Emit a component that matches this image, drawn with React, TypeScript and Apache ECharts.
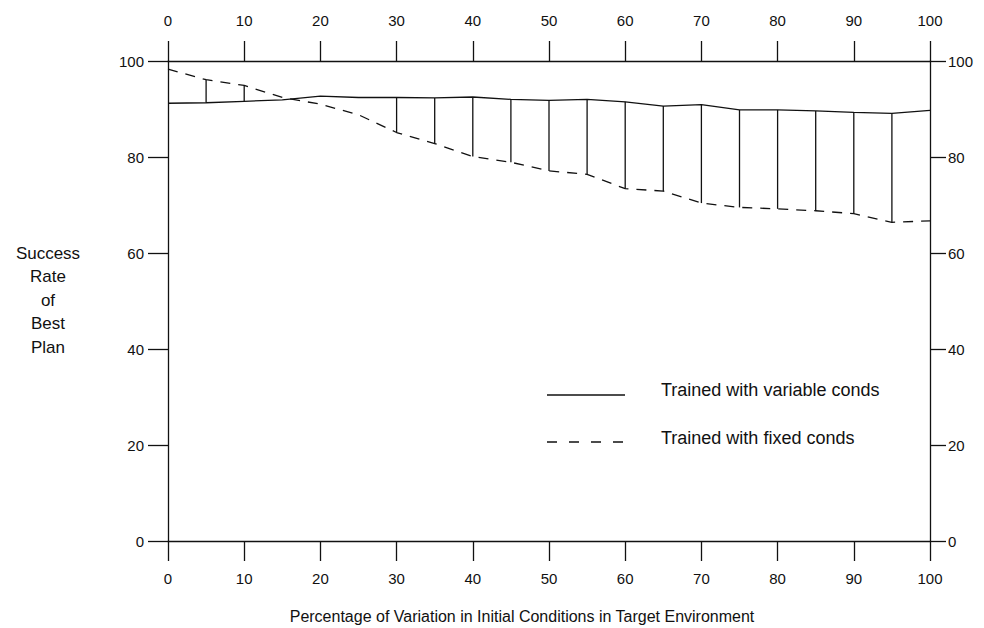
import React, { useEffect, useRef } from "react";
import * as echarts from "echarts";

const xValues = [0, 5, 10, 15, 20, 25, 30, 35, 40, 45, 50, 55, 60, 65, 70, 75, 80, 85, 90, 95, 100];
const variableConds = [91.2, 91.3, 91.6, 91.9, 92.7, 92.4, 92.4, 92.3, 92.5, 92.0, 91.8, 92.0, 91.5, 90.6, 90.9, 89.8, 89.8, 89.6, 89.3, 89.1, 89.7];
const fixedConds = [98.3, 96.1, 94.9, 92.4, 91.0, 88.8, 85.1, 82.8, 80.1, 78.9, 77.1, 76.4, 73.4, 72.9, 70.4, 69.5, 69.2, 68.8, 68.2, 66.4, 66.7];
const dropLineX = [5, 10, 30, 35, 40, 45, 50, 55, 60, 65, 70, 75, 80, 85, 90, 95];
const xTicks = [0, 10, 20, 30, 40, 50, 60, 70, 80, 90, 100];
const yTicks = [0, 20, 40, 60, 80, 100];
const legendLabels = ["Trained with variable conds", "Trained with fixed conds"];
const yAxisTitle = ["Success", "Rate", "of", "Best", "Plan"];
const xAxisTitle = "Percentage of Variation in Initial Conditions in Target Environment";

const FONT = "'Liberation Sans', Arial, Helvetica, sans-serif";
const INK = "#111";

export default function App() {
  const ref = useRef<HTMLDivElement>(null);
  useEffect(() => {
    if (!ref.current) return;
    const chart = echarts.init(ref.current, null, { renderer: "svg" });
    const labelStyle = { color: INK, fontFamily: FONT, fontSize: 15 };
    const lineStyle = { color: INK, width: 1.3 };
    const xAxisCommon = {
      type: "value" as const,
      min: xTicks[0],
      max: xTicks[xTicks.length - 1],
      interval: 10,
      splitLine: { show: false },
      axisLine: { show: true, onZero: false, lineStyle },
      axisTick: { show: true, length: 20, lineStyle },
    };
    const yAxisCommon = {
      type: "value" as const,
      min: yTicks[0],
      max: yTicks[yTicks.length - 1],
      interval: 20,
      splitLine: { show: false },
      axisLine: { show: true, onZero: false, lineStyle },
    };
    const pairs = (ys: number[]) => xValues.map((x, i) => [x, ys[i]]);
    const dropData = dropLineX.map((x) => {
      const i = xValues.indexOf(x);
      return [x, variableConds[i], fixedConds[i]];
    });
    chart.setOption({
      animation: false,
      backgroundColor: "#fff",
      grid: { left: 168, right: 54, top: 61, bottom: 87, containLabel: false },
      xAxis: [
        { ...xAxisCommon, position: "bottom", axisLabel: { ...labelStyle, margin: 30 } },
        { ...xAxisCommon, position: "top", axisLabel: { ...labelStyle, margin: 33 } },
      ],
      yAxis: [
        { ...yAxisCommon, position: "left", axisTick: { show: true, length: 20, lineStyle }, axisLabel: { ...labelStyle, margin: 24 } },
        { ...yAxisCommon, position: "right", axisTick: { show: true, length: 16, lineStyle }, axisLabel: { ...labelStyle, margin: 18 } },
      ],
      series: [
        {
          name: legendLabels[0],
          type: "line",
          data: pairs(variableConds),
          symbol: "none",
          lineStyle: { color: INK, width: 1.3, type: "solid" },
        },
        {
          name: legendLabels[1],
          type: "line",
          data: pairs(fixedConds),
          symbol: "none",
          lineStyle: { color: INK, width: 1.3, type: [10, 8] },
        },
        {
          type: "custom",
          data: dropData,
          renderItem: (params: any, api: any) => {
            const p1 = api.coord([api.value(0), api.value(1)]);
            const p2 = api.coord([api.value(0), api.value(2)]);
            return {
              type: "line",
              shape: { x1: p1[0], y1: p1[1], x2: p2[0], y2: p2[1] },
              style: { stroke: INK, lineWidth: 1.3 },
            };
          },
        },
      ],
      graphic: [
        {
          type: "text",
          x: 48,
          y: 300,
          style: {
            text: yAxisTitle.join("\n"),
            fill: INK,
            font: `17px ${FONT}`,
            align: "center",
            verticalAlign: "middle",
            lineHeight: 23.5,
          },
        },
        {
          type: "text",
          x: 522,
          y: 616,
          style: {
            text: xAxisTitle,
            fill: INK,
            font: `16px ${FONT}`,
            align: "center",
            verticalAlign: "middle",
          },
        },
        {
          type: "line",
          shape: { x1: 547, y1: 395, x2: 625, y2: 395 },
          style: { stroke: INK, lineWidth: 1.3 },
        },
        {
          type: "line",
          shape: { x1: 547, y1: 442, x2: 625, y2: 442 },
          style: { stroke: INK, lineWidth: 1.3, lineDash: [10, 12] },
        },
        {
          type: "text",
          x: 661,
          y: 390,
          style: { text: legendLabels[0], fill: INK, font: `18px ${FONT}`, align: "left", verticalAlign: "middle" },
        },
        {
          type: "text",
          x: 661,
          y: 438,
          style: { text: legendLabels[1], fill: INK, font: `18px ${FONT}`, align: "left", verticalAlign: "middle" },
        },
      ],
    });
    return () => chart.dispose();
  }, []);
  return (
    <div
      ref={ref}
      style={{ position: "absolute", left: 0, top: 0, width: 984, height: 628, background: "#fff" }}
    />
  );
}
